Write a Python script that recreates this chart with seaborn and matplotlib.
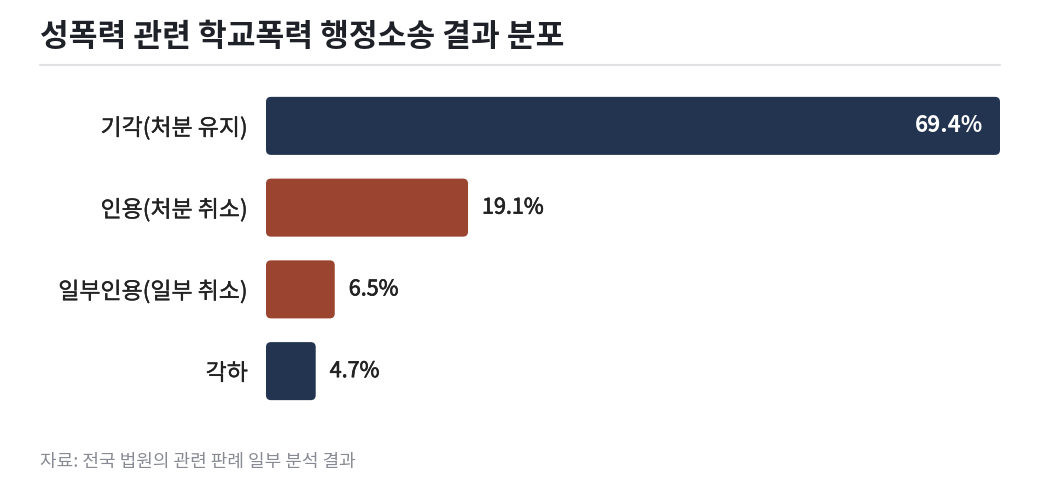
import matplotlib
matplotlib.use("Agg")
import matplotlib.pyplot as plt
import matplotlib.patheffects as pe
from matplotlib.patches import FancyBboxPatch
import seaborn as sns
import pandas as pd

# Data
categories = ["기각(처분 유지)", "인용(처분 취소)", "일부인용(일부 취소)", "각하"]
shares = [69.4, 19.1, 6.5, 4.7]
bar_colors = ["#22344f", "#9b4530", "#9b4530", "#22344f"]

title = "성폭력 관련 학교폭력 행정소송 결과 분포"
source = "자료: 전국 법원의 관련 판례 일부 분석 결과"

df = pd.DataFrame({"결과": categories, "비율": shares})

sns.set_theme(style="white")
plt.rcParams['font.family'] = ['Noto Sans CJK KR', 'DejaVu Sans']

fig = plt.figure(figsize=(10.4, 4.95), dpi=100)
fig.patch.set_facecolor("white")
ax = fig.add_axes([266 / 1040, 83 / 495, 734 / 1040, 327 / 495])

sns.barplot(
    data=df, x="비율", y="결과", hue="결과",
    palette=dict(zip(categories, bar_colors)),
    legend=False, width=0.71, ax=ax, saturation=1,
)

ax.set_xlim(0, max(shares))
ax.set_ylim(len(categories) - 0.5, -0.5)
for s in ax.spines.values():
    s.set_visible(False)
ax.set_xticks([])
ax.set_xlabel("")
ax.set_ylabel("")
ax.tick_params(axis="y", length=0, pad=13)
for lab in ax.get_yticklabels():
    lab.set_fontsize(16.5)
    lab.set_color("#222222")
    lab.set_path_effects([pe.withStroke(linewidth=0.25, foreground="#222222")])

# rounded bars
fig.canvas.draw()
inv = ax.transData.inverted()
p0 = inv.transform((0, 0))
p1 = inv.transform((1, 1))
px_x = abs(p1[0] - p0[0])
px_y = abs(p1[1] - p0[1])
radius = 5
for patch in list(ax.patches):
    x, y = patch.get_x(), patch.get_y()
    w, h = patch.get_width(), patch.get_height()
    fc = patch.get_facecolor()
    patch.remove()
    ax.add_patch(FancyBboxPatch(
        (x, y), w, h,
        boxstyle=f"round,pad=0,rounding_size={radius * px_x}",
        mutation_aspect=px_y / px_x,
        facecolor=fc, edgecolor="none",
    ))

# value labels
for i, v in enumerate(shares):
    if v > 40:
        ax.text(v - 17 * px_x, i, f"{v}%", ha="right", va="center",
                color="white", fontsize=16, fontweight="semibold")
    else:
        ax.text(v + 14 * px_x, i, f"{v}%", ha="left", va="center",
                color="#222222", fontsize=15.5,
                path_effects=[pe.withStroke(linewidth=0.5, foreground="#222222")])

fig.text(40 / 1040, 1 - 37 / 495, title, ha="left", va="center",
         fontsize=22.5, fontweight="bold", color="#1f2128")
fig.add_artist(plt.Line2D([40 / 1040, 1000 / 1040], [1 - 65 / 495] * 2,
                          color="#e1e2e6", linewidth=1.5))
fig.text(40 / 1040, 1 - 462 / 495, source, ha="left", va="center",
         fontsize=13, color="#888a94")

fig.savefig("out.png", dpi=100, facecolor="white")
